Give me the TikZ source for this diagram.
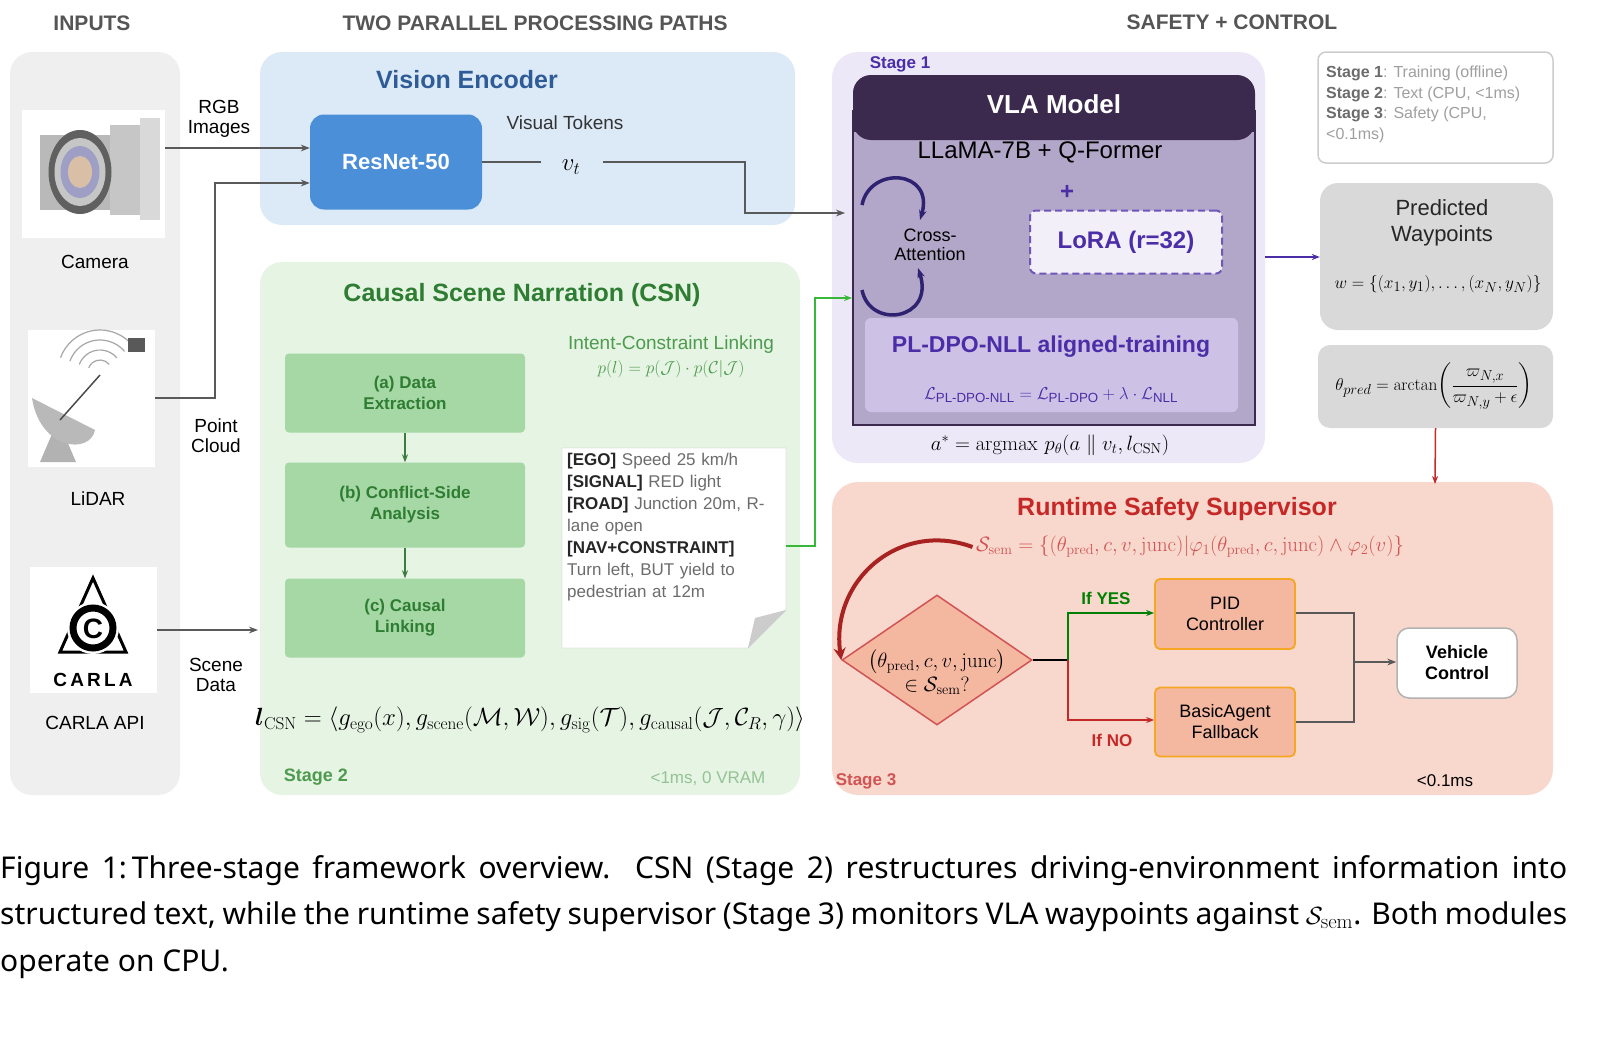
\documentclass[tikz,border=0pt]{standalone}
\usepackage{amsmath,amssymb}
\usepackage[no-math]{fontspec}
\setmainfont{Liberation Sans}
\newfontfamily\capfont{Noto Sans}
\usetikzlibrary{arrows.meta,shapes.geometric,calc}
\definecolor{hdr}{HTML}{555555}
\definecolor{vblue}{HTML}{2F5C96}
\definecolor{vpanel}{HTML}{DCEAF8}
\definecolor{rnet}{HTML}{4A8FD8}
\definecolor{gpanel}{HTML}{E5F4E3}
\definecolor{gbox}{HTML}{A6D8A5}
\definecolor{gdark}{HTML}{2E7D32}
\definecolor{gtext}{HTML}{4E9A4E}
\definecolor{ppanel}{HTML}{EDE8F7}
\definecolor{pdark}{HTML}{3B2A4E}
\definecolor{pbody}{HTML}{B3A7C9}
\definecolor{pbox}{HTML}{CDC2E5}
\definecolor{ptext}{HTML}{4B2DA8}
\definecolor{rpanel}{HTML}{F8D8CC}
\definecolor{rtext}{HTML}{C62828}
\definecolor{rbox}{HTML}{F4B7A0}
\definecolor{obord}{HTML}{F5A623}
\definecolor{gray1}{HTML}{EFEFEF}
\definecolor{gray2}{HTML}{D9D9D9}
\begin{document}
\begin{tikzpicture}[x=1pt,y=-1pt,
  hd/.style={font=\fontsize{21}{24}\selectfont\bfseries, text=hdr},
  gb/.style={fill=gbox, rounded corners=4pt, text=gdark, font=\fontsize{17}{21}\selectfont\bfseries, align=center},
  lbl/.style={font=\fontsize{19}{23}\selectfont, align=center},
  garr/.style={draw=gray!70!black, line width=1.2pt, -{Stealth[length=9pt]}},
]
\useasboundingbox (0,0) rectangle (1600,1060);
% headers
\node[hd] (h1) at (92,23) {INPUTS};
\node[hd] (h2) at (535,23) {TWO PARALLEL PROCESSING PATHS};
\node[hd] (h3) at (1232,22) {SAFETY + CONTROL};
% inputs panel
\fill[gray1, rounded corners=22pt] (10,52) rectangle (180,795);
% camera icon
\fill[white] (22,110) rectangle (165,238);
\fill[gray!45] (110,125) rectangle (140,215);
\fill[gray!30] (140,118) rectangle (160,220);
\fill[gray!55] (40,135) rectangle (110,210);
\foreach \r/\c in {42/gray!75!black,34/gray!45,26/blue!25!gray!60,16/orange!40!gray!50}
  \fill[\c] (80,172) ellipse ({\r*0.75} and \r);
\node[lbl] (camL) at (95,262) {Camera};
% lidar icon
\fill[white] (28,330) rectangle (155,467);
\fill[gray!60] (40,462) -- (58,420) -- (76,462) -- cycle;
\fill[gray!55] (32,398) .. controls (40,450) and (90,455) .. (95,430) -- cycle;
\draw[gray!60!black, line width=1.5pt] (60,420) -- (100,375);
\foreach \r in {12,22,32,42} \draw[gray!70, line width=1.2pt] ($(100,372)+(-40:\r)$) arc[start angle=-40,end angle=-160,radius=\r];
\fill[gray!70!black] (128,338) rectangle (145,352);
\node[lbl] (lidL) at (98,499) {LiDAR};
% carla icon
\fill[white] (30,567) rectangle (157,693);
\draw[black, line width=3pt] (93,578) -- (60,652) -- (126,652) -- cycle;
\fill[white] (93,628) circle (26);
\draw[black, line width=7pt] (93,628) circle (20);
\node[font=\fontsize{28}{28}\selectfont\bfseries] (cC) at (93,629) {C};
\node[font=\fontsize{19}{20}\selectfont\bfseries] (cW) at (93,680) {C\,A\,R\,L\,A};
\node[lbl] (carL) at (95,723) {CARLA API};
\node[lbl] (rgb) at (219,119) {RGB\\[-3pt]Images};
\node[lbl] (pc) at (216,436) {Point\\[-3pt]Cloud};
\node[lbl] (sd) at (216,675) {Scene\\[-3pt]Data};
% vision encoder
\fill[vpanel, rounded corners=22pt] (260,52) rectangle (795,225);
\node[font=\fontsize{25}{28}\selectfont\bfseries, text=vblue] (vet) at (467,80) {Vision Encoder};
\node[fill=rnet, rounded corners=14pt, minimum width=172pt, minimum height=95pt, text=white, font=\fontsize{22}{24}\selectfont\bfseries] (res) at (396,162) {ResNet-50};
\node[lbl, text=black!80] (vt) at (565,123) {Visual Tokens};
\node[font=\fontsize{26}{28}\selectfont] (vtok) at (571,167) {$v_t$};
\coordinate (camo) at (165,148);
\coordinate (lido) at (155,398);
\coordinate (carlo) at (157,630);
\draw[garr] (camo) -- (res.west |- camo);
\draw[garr] (lido) -- (215,398) -- (215,183) -- (res.west |- 0,183);
\draw[gray!70!black, line width=1.2pt] (res.east |- 0,162) -- (541,162);
% CSN
\fill[gpanel, rounded corners=22pt] (260,262) rectangle (800,795);
\node[font=\fontsize{25}{28}\selectfont\bfseries, text=gdark] (csnt) at (522,295) {Causal Scene Narration (CSN)};
\node[gb, minimum width=240pt, minimum height=79pt] (ba) at (405,393) {(a) Data\\Extraction};
\node[gb, minimum width=240pt, minimum height=85pt] (bb) at (405,505) {(b) Conflict-Side\\Analysis};
\node[gb, minimum width=240pt, minimum height=79pt] (bc) at (405,618) {(c) Causal\\Linking};
\draw[draw=gtext!80!black, line width=1.5pt, -{Stealth[length=8pt]}] (ba) -- (bb);
\draw[draw=gtext!80!black, line width=1.5pt, -{Stealth[length=8pt]}] (bb) -- (bc);
\draw[garr] (carlo) -- (258,630);
\node[font=\fontsize{19}{24}\selectfont, text=gtext, align=center] (icl) at (671,357) {Intent-Constraint Linking\\$p(l)=p(\mathcal{J})\cdot p(\mathcal{C}|\mathcal{J})$};
% note
\fill[white] (562,448) -- (786,448) -- (786,610) -- (748,648) -- (562,648) -- cycle;
\draw[gray!50] (562,448) -- (786,448) -- (786,610) -- (748,648) -- (562,648) -- cycle;
\fill[gray!40] (786,610) -- (748,648) -- (755,618) -- cycle;
\node[anchor=north west, text width=215pt, font=\fontsize{17}{22}\selectfont, text=gray!85!black, inner sep=0pt] (note) at (567,453) {\textcolor{black!85}{\bfseries[EGO]} Speed 25 km/h\\\textcolor{black!85}{\bfseries[SIGNAL]} RED light\\\textcolor{black!85}{\bfseries[ROAD]} Junction 20m, R-\\lane open\\\textcolor{black!85}{\bfseries[NAV+CONSTRAINT]}\\Turn left, BUT yield to\\pedestrian at 12m};
\coordinate (noteR) at (786,546);
\node[font=\fontsize{23}{26}\selectfont] (lcsn) at (530,720) {$\boldsymbol{l}_{\mathrm{CSN}}=\langle g_{\mathrm{ego}}(x), g_{\mathrm{scene}}(\mathcal{M},\mathcal{W}), g_{\mathrm{sig}}(\mathcal{T}), g_{\mathrm{causal}}(\mathcal{J},\mathcal{C}_R,\gamma)\rangle$};
\node[font=\fontsize{18}{20}\selectfont\bfseries, text=gtext] (s2) at (316,777) {Stage 2};
\node[font=\fontsize{17}{20}\selectfont, text=gtext!60] (s2t) at (708,779) {<1ms, 0 VRAM};
% VLA
\fill[ppanel, rounded corners=26pt] (832,52) rectangle (1265,463);
\node[font=\fontsize{17}{20}\selectfont\bfseries, text=ptext] (s1) at (900,64) {Stage 1};
\fill[pbody] (853,130) rectangle (1255,425);
\fill[pdark, rounded corners=18pt] (853,75) rectangle (1255,140);
\fill[pdark] (853,110) rectangle (1255,132);
\draw[pdark, line width=2pt] (853,110) -- (853,425) -- (1255,425) -- (1255,110);
\node[font=\fontsize{26}{28}\selectfont\bfseries, text=white] (vla) at (1054,104) {VLA Model};
\node[font=\fontsize{24}{26}\selectfont] (llama) at (1040,152) {LLaMA-7B + Q-Former};
\node[font=\fontsize{24}{26}\selectfont\bfseries, text=ptext] (plus) at (1067,192) {+};
\node[draw=ptext!80, line width=2pt, dash pattern=on 7pt off 4pt, fill=ppanel!70!white, rounded corners=6pt, minimum width=192pt, minimum height=63pt, font=\fontsize{24}{26}\selectfont\bfseries, text=ptext] (lora) at (1126,242) {LoRA (r=32)};
\node[font=\fontsize{18}{21}\selectfont, align=center] (ca) at (930,245) {Cross-\\[-2pt]Attention};
\draw[pdark!80!blue, line width=3.5pt, -{Stealth[length=10pt]}] (862,205) .. controls (870,165) and (935,170) .. (920,220);
\draw[pdark!80!blue, line width=3.5pt, -{Stealth[length=10pt]}] (862,290) .. controls (870,330) and (935,320) .. (918,268);
\fill[pbox, rounded corners=6pt] (865,318) rectangle (1238,412);
\node[font=\fontsize{23}{26}\selectfont\bfseries, text=ptext] (pl) at (1051,347) {PL-DPO-NLL aligned-training};
\node[font=\fontsize{19}{22}\selectfont, text=ptext] (plf) at (1051,395) {$\mathcal{L}_{\text{PL-DPO-NLL}}=\mathcal{L}_{\text{PL-DPO}}+\lambda\cdot\mathcal{L}_{\text{NLL}}$};
\node[font=\fontsize{22}{24}\selectfont] (astar) at (1050,445) {$a^{*}=\operatorname{argmax}\,p_\theta(a\parallel v_t, l_{\mathrm{CSN}})$};
\coordinate (vin) at (845,213);
\draw[garr] (603,162) -- (745,162) -- (745,213) -- (vin);
\draw[draw=gtext!70!green, line width=1.5pt, -{Stealth[length=8pt]}] (noteR) -- (815,546) -- (815,298) -- (852,298);
% right side
\node[draw=gray!40, line width=1.5pt, fill=white, rounded corners=8pt, minimum width=235pt, minimum height=111pt] (info) at (1435.5,107.5) {};
\node[anchor=north west, font=\fontsize{16}{20.5}\selectfont, text=gray!75, align=left, inner sep=0pt] (infot) at (1326,66) {\textbf{\textcolor{gray!85!black}{Stage 1}}: Training (offline)\\\textbf{\textcolor{gray!85!black}{Stage 2}}: Text (CPU, <1ms)\\\textbf{\textcolor{gray!85!black}{Stage 3}}: Safety (CPU,\\<0.1ms)};
\node[fill=gray2, rounded corners=18pt, minimum width=233pt, minimum height=147pt] (wp) at (1436.5,256.5) {};
\node[font=\fontsize{22}{26}\selectfont, align=center, text=black!85] (wpt) at (1442,223) {Predicted\\Waypoints};
\node[font=\fontsize{19}{22}\selectfont] (wpf) at (1438,284) {$w=\{(x_1,y_1),\dots,(x_N,y_N)\}$};
\node[fill=gray2, rounded corners=12pt, minimum width=235pt, minimum height=83pt] (th) at (1435.5,386.5) {};
\node[font=\fontsize{19}{22}\selectfont] (thf) at (1434,386) {$\theta_{pred}=\arctan\!\left(\dfrac{\varpi_{N,x}}{\varpi_{N,y}+\epsilon}\right)$};
\coordinate (vlaR) at (1265,257);
\draw[draw=ptext, line width=2pt, -{Stealth[length=8pt]}] (vlaR) -- (wp.west |- vlaR);
% safety
\fill[rpanel, rounded corners=26pt] (832,482) rectangle (1553,795);
\draw[draw=rtext, line width=1.5pt, -{Stealth[length=8pt]}] (th.south) -- (1435,484);
\node[font=\fontsize{25}{28}\selectfont\bfseries, text=rtext] (rst) at (1177,509) {Runtime Safety Supervisor};
\node[font=\fontsize{20}{24}\selectfont, text=rtext!80] (ssem) at (1190,547) {$\mathcal{S}_{\mathrm{sem}}=\{(\theta_{\mathrm{pred}},c,v,\mathrm{junc})|\varphi_1(\theta_{\mathrm{pred}},c,\mathrm{junc})\wedge\varphi_2(v)\}$};
\node[diamond, aspect=1.45, fill=rbox, draw=rtext!80, line width=1.5pt, minimum width=190pt, minimum height=130pt, inner sep=0pt] (dia) at (937,660) {};
\node[font=\fontsize{20}{24}\selectfont, align=center] (diat) at (937,672) {$\bigl(\theta_{\mathrm{pred}},c,v,\mathrm{junc}\bigr)$\\$\in\mathcal{S}_{\mathrm{sem}}?$};
\node[fill=rbox, draw=obord, line width=1.8pt, rounded corners=5pt, minimum width=140pt, minimum height=70pt, align=center, font=\fontsize{18}{21}\selectfont] (pid) at (1225,614) {PID\\Controller};
\node[fill=rbox, draw=obord, line width=1.8pt, rounded corners=5pt, minimum width=140pt, minimum height=69pt, align=center, font=\fontsize{18}{21}\selectfont] (ba2) at (1225,722) {BasicAgent\\Fallback};
\node[fill=white, draw=gray!60, line width=1.5pt, rounded corners=12pt, minimum width=120pt, minimum height=70pt, align=center, font=\fontsize{18}{21}\selectfont\bfseries] (vc) at (1457,663) {Vehicle\\Control};
\draw[black, line width=2pt] (dia.east) -- (1068,660);
\draw[draw=green!50!black, line width=1.8pt, -{Stealth[length=8pt]}] (1068,660) -- (1068,613) -- (pid.west |- 0,613);
\draw[draw=rtext, line width=1.8pt, -{Stealth[length=8pt]}] (1068,660) -- (1068,720) -- (ba2.west |- 0,720);
\node[font=\fontsize{17}{20}\selectfont\bfseries, text=green!50!black] (yes) at (1106,598) {If YES};
\node[font=\fontsize{17}{20}\selectfont\bfseries, text=rtext] (no) at (1112,740) {If NO};
\draw[gray!70!black, line width=1.5pt] (pid.east |- 0,613) -- (1354,613) -- (1354,722) -- (ba2.east |- 0,722);
\draw[garr] (1354,662) -- (vc.west |- 0,662);
\draw[draw=rtext!85!black, line width=4pt, -{Stealth[length=12pt,width=12pt]}] (ssem.west) .. controls (900,520) and (830,580) .. (dia.west);
\node[font=\fontsize{17}{20}\selectfont\bfseries, text=rtext!80] (s3) at (866,781) {Stage 3};
\node[font=\fontsize{17}{20}\selectfont] (s3t) at (1445,781) {<0.1ms};
% caption
\node[anchor=north west, inner sep=0pt, text width=1567pt, align=justify, font=\capfont\fontsize{30}{46.5}\selectfont] (cap) at (0,855) {\hyphenpenalty=10000\relax\exhyphenpenalty=10000\relax Figure 1:\,Three-stage framework overview. CSN (Stage 2) restructures driving-environment information into structured text, while the runtime safety supervisor (Stage 3) monitors VLA waypoints against $\mathcal{S}_{\mathrm{sem}}$. Both modules operate on CPU.};
\end{tikzpicture}
\end{document}
